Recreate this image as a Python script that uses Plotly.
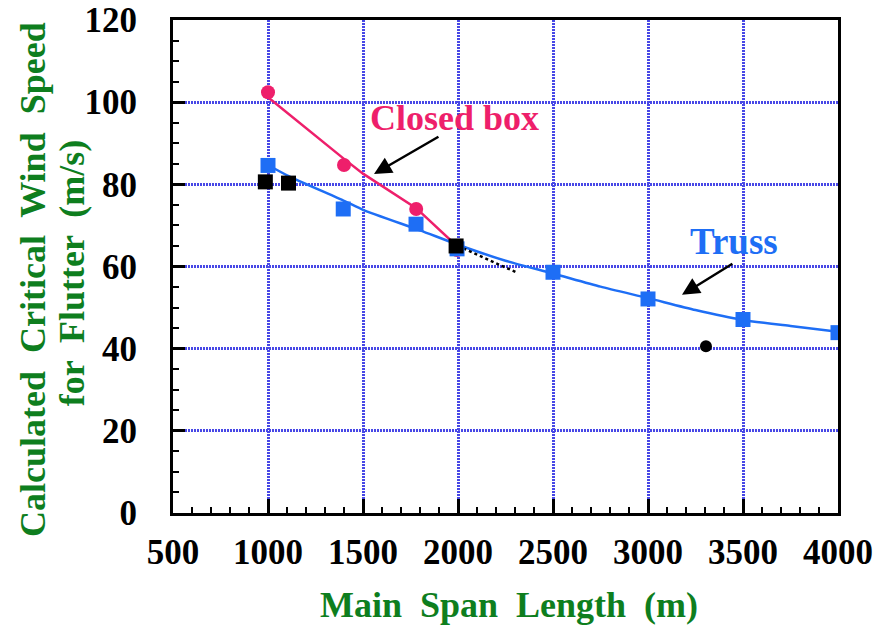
import plotly.graph_objects as go

# ---- data ----
box_x = [1000, 1400, 1780, 1995]
box_y = [102.4, 84.7, 74.0, 64.0]
box_line_x = [1000, 1200, 1400, 1500, 1600, 1780, 2005]
box_line_y = [101.2, 93.6, 86.2, 82.6, 79.6, 74.2, 64.5]

truss_x = [1000, 1396, 1779, 1995, 2500, 3000, 3500, 4000]
truss_y = [84.6, 74.0, 70.3, 64.3, 58.6, 52.1, 47.1, 43.9]
truss_line_x = [1000, 1100, 1400, 1500, 1800, 2000, 2250, 2500, 2750, 3000, 3250, 3500, 3750, 4000]
truss_line_y = [84.7, 82.2, 76.0, 73.8, 68.8, 65.3, 61.4, 58.3, 55.1, 52.3, 49.4, 47.0, 45.5, 44.1]

black_sq_x = [986, 1108, 1990]
black_sq_y = [80.6, 80.3, 65.0]
black_dot_x = [3305]
black_dot_y = [40.6]
black_dash_x = [2000, 2150, 2315]
black_dash_y = [65.0, 61.8, 58.4]

x_ticks = [500, 1000, 1500, 2000, 2500, 3000, 3500, 4000]
y_ticks = [0, 20, 40, 60, 80, 100, 120]

PINK = "#EE1F6B"
BLUE = "#1E6EF5"
GREEN = "#0E7E1E"
GRID = "#4848E6"
FONT = "Liberation Serif"

fig = go.Figure()
fig.add_trace(go.Scatter(x=box_line_x, y=box_line_y, mode="lines",
                         line=dict(color=PINK, width=2.5), showlegend=False))
fig.add_trace(go.Scatter(x=truss_line_x, y=truss_line_y, mode="lines",
                         line=dict(color=BLUE, width=2.5, shape="spline", smoothing=0.6), showlegend=False))
fig.add_trace(go.Scatter(x=black_dash_x, y=black_dash_y, mode="lines",
                         line=dict(color="black", width=2.5, dash="dot"), showlegend=False))
fig.add_trace(go.Scatter(x=box_x, y=box_y, mode="markers",
                         marker=dict(color=PINK, size=14, symbol="circle"), showlegend=False))
fig.add_trace(go.Scatter(x=truss_x, y=truss_y, mode="markers",
                         marker=dict(color=BLUE, size=15, symbol="square"), showlegend=False))
fig.add_trace(go.Scatter(x=black_sq_x, y=black_sq_y, mode="markers",
                         marker=dict(color="black", size=15, symbol="square"), showlegend=False))
fig.add_trace(go.Scatter(x=black_dot_x, y=black_dot_y, mode="markers",
                         marker=dict(color="black", size=12, symbol="circle"), showlegend=False))

tickfont = dict(family=FONT, size=35, color="black", weight="bold")

fig.update_xaxes(range=[500, 4000], tickvals=x_ticks, ticktext=[str(v) for v in x_ticks],
                 showline=True, linecolor="black", linewidth=3, mirror=True,
                 ticks="inside", ticklen=14, tickwidth=2.5, tickcolor="black",
                 minor=dict(dtick=100, ticks="inside", ticklen=6, tickwidth=2, tickcolor="black", showgrid=False),
                 showgrid=True, gridcolor=GRID, gridwidth=3, griddash="2px,1px",
                 zeroline=False, tickfont=tickfont, ticklabelstandoff=6, automargin=False)
fig.update_yaxes(range=[0, 120], tickvals=y_ticks, ticktext=[str(v) for v in y_ticks],
                 showline=True, linecolor="black", linewidth=3, mirror=True,
                 ticks="inside", ticklen=12, tickwidth=2.5, tickcolor="black",
                 minor=dict(dtick=5, ticks="inside", ticklen=6, tickwidth=2, tickcolor="black", showgrid=False),
                 showgrid=True, gridcolor=GRID, gridwidth=3, griddash="2px,1px",
                 zeroline=False, tickfont=tickfont, ticklabelstandoff=26, automargin=False)

title_font = dict(family=FONT, size=36, color=GREEN, weight="bold")
annos = [
    dict(text="Closed box", x=1979, y=96.2, xref="x", yref="y", showarrow=False,
         xanchor="center", yanchor="middle",
         font=dict(family=FONT, size=36, color=PINK, weight="bold")),
    dict(text="Truss", x=3452, y=66.0, xref="x", yref="y", showarrow=False,
         xanchor="center", yanchor="middle",
         font=dict(family=FONT, size=37, color=BLUE, weight="bold")),
    dict(text="", x=1558, y=82.5, ax=1905, ay=91.8, xref="x", yref="y", axref="x", ayref="y",
         showarrow=True, arrowhead=2, arrowsize=1.4, arrowwidth=2.5, arrowcolor="black"),
    dict(text="", x=3179, y=53.1, ax=3452, ay=60.9, xref="x", yref="y", axref="x", ayref="y",
         showarrow=True, arrowhead=2, arrowsize=1.4, arrowwidth=2.5, arrowcolor="black"),
    dict(text="Main  Span  Length  (m)", x=0.505, y=-0.187, xref="paper", yref="paper",
         xanchor="center", yanchor="middle", showarrow=False, font=title_font),
    dict(text="Calculated  Critical  Wind  Speed", x=-0.2105, y=0.4726,
         xref="paper", yref="paper", textangle=-90, showarrow=False,
         xanchor="center", yanchor="middle", font=title_font),
    dict(text="for  Flutter  (m/s)", x=-0.152, y=0.488,
         xref="paper", yref="paper", textangle=-90, showarrow=False,
         xanchor="center", yanchor="middle", font=title_font),
]

fig.update_layout(width=878, height=626, margin=dict(l=173, r=40, t=20, b=113),
                  plot_bgcolor="white", paper_bgcolor="white", annotations=annos,
                  showlegend=False)

fig.write_html("out.html", config={"displayModeBar": False},
               post_script="document.body.style.margin='0px';document.body.style.overflow='hidden';")
